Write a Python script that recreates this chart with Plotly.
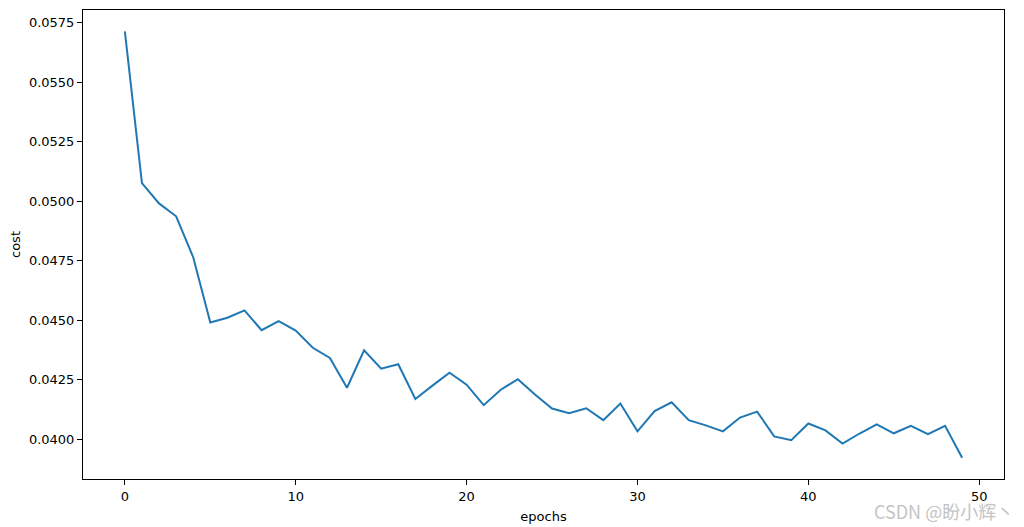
import plotly.graph_objects as go

epochs = list(range(50))
cost = [0.05713, 0.05076, 0.04991, 0.04937, 0.04765, 0.04491, 0.04511, 0.04542, 0.04459, 0.04497,
        0.04457, 0.04385, 0.04342, 0.04217, 0.04374, 0.04297, 0.04316, 0.04170, 0.04226, 0.04280,
        0.04230, 0.04144, 0.04209, 0.04253, 0.04189, 0.04130, 0.04110, 0.04131, 0.04081, 0.04151,
        0.04034, 0.04119, 0.04156, 0.04081, 0.04059, 0.04034, 0.04092, 0.04117, 0.04013, 0.03997,
        0.04067, 0.04038, 0.03983, 0.04025, 0.04063, 0.04026, 0.04057, 0.04022, 0.04057, 0.03923]

fig = go.Figure(go.Scatter(x=epochs, y=cost, mode="lines",
                           line=dict(color="#1f77b4", width=2)))

font = dict(family="DejaVu Sans", size=13, color="black")
# page body has an 8px default margin; compensate so the axes box lands at 83..1004 x 10..479
fig.update_layout(
    width=1016, height=519,
    margin=dict(l=75, r=20, t=2, b=48),
    plot_bgcolor="white", paper_bgcolor="white",
    font=font, showlegend=False,
    xaxis=dict(range=[-2.45, 51.45], dtick=10, tick0=0, showgrid=False, zeroline=False,
               showline=True, linecolor="black", linewidth=1, mirror=True,
               ticks="outside", ticklen=5, tickcolor="black", automargin=False,
               title=dict(text="epochs", font=font, standoff=9)),
    yaxis=dict(range=[0.03834, 0.05803], dtick=0.0025, tick0=0.04, tickformat=".4f",
               showgrid=False, zeroline=False, automargin=False,
               showline=True, linecolor="black", linewidth=1, mirror=True,
               ticks="outside", ticklen=5, tickcolor="black",
               title=dict(text="cost", font=font, standoff=10)),
    annotations=[dict(text="CSDN @盼小辉丶", xref="paper", yref="paper", x=1.013, y=-0.068,
                      xanchor="right", yanchor="middle", showarrow=False,
                      font=dict(family="Noto Sans CJK SC", size=18, color="#c4c4c4"))],
)

fig.write_html("out.html")
